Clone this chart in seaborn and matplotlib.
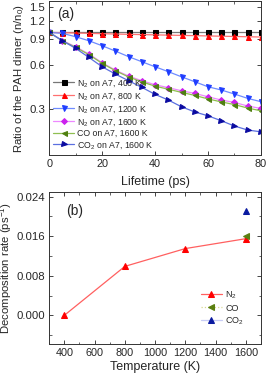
import matplotlib
matplotlib.use("Agg")
import matplotlib.pyplot as plt
import seaborn as sns
import pandas as pd
from matplotlib.ticker import FixedLocator, FormatStrFormatter, NullLocator, MultipleLocator

# ---------------- data ----------------
lifetime = [0, 5, 10, 15, 20, 25, 30, 35, 40, 45, 50, 55, 60, 65, 70, 75, 80]
n2_400 = [1.0, 1.0, 1.0, 1.0, 1.0, 1.0, 1.0, 1.0, 1.0, 1.0, 1.0, 1.0, 1.0, 1.0, 1.0, 1.0, 1.0]
n2_800 = [1.0, 0.995, 0.99, 0.985, 0.98, 0.975, 0.97, 0.966, 0.962, 0.958, 0.954, 0.95, 0.946, 0.942, 0.938, 0.934, 0.93]
n2_1200 = [1.0, 0.985, 0.934, 0.877, 0.811, 0.746, 0.683, 0.631, 0.583, 0.54, 0.498, 0.461, 0.426, 0.405, 0.38, 0.355, 0.337]
n2_1600 = [1.0, 0.88, 0.798, 0.712, 0.621, 0.553, 0.504, 0.468, 0.44, 0.42, 0.40, 0.384, 0.364, 0.346, 0.333, 0.315, 0.303]
co_1600 = [1.0, 0.875, 0.79, 0.705, 0.615, 0.548, 0.497, 0.46, 0.43, 0.41, 0.39, 0.372, 0.352, 0.336, 0.322, 0.305, 0.292]
co2_1600 = [1.0, 0.877, 0.778, 0.675, 0.583, 0.52, 0.468, 0.422, 0.378, 0.346, 0.311, 0.287, 0.27, 0.25, 0.23, 0.216, 0.21]

series_labels = ["N$_2$ on A7, 400 K", "N$_2$ on A7, 800 K", "N$_2$ on A7, 1200 K",
                 "N$_2$ on A7, 1600 K", "CO on A7, 1600 K", "CO$_2$ on A7, 1600 K"]

temperature = [400, 800, 1200, 1600]
rate_n2 = [0.0, 0.0099, 0.0135, 0.0155]
temp_co = [1600]
rate_co = [0.0160]
temp_co2 = [1600]
rate_co2 = [0.0211]

# ---------------- style ----------------
sns.set_style("ticks")
plt.rcParams["font.family"] = ["Liberation Sans", "DejaVu Sans"]
plt.rcParams["mathtext.fontset"] = "custom"
plt.rcParams["mathtext.rm"] = "Liberation Sans"

fig = plt.figure(figsize=(2.69, 3.74), dpi=100)
ax1 = fig.add_axes([0.183, 0.5856, 0.787, 0.411])
ax2 = fig.add_axes([0.183, 0.0802, 0.787, 0.4072])

styles = [
    ("#777777", "s", "black"),
    ("#ff7070", "^", "#ff0000"),
    ("#6f8cff", "v", "#1f3dff"),
    ("#ee88ff", "D", "#cc22ee"),
    ("#8fbf50", "<", "#4f7f10"),
    ("#5a6fe0", ">", "#0a0aa0"),
]
all_series = [n2_400, n2_800, n2_1200, n2_1600, co_1600, co2_1600]

for vals, lab, (lc, mk, mc) in zip(all_series, series_labels, styles):
    df = pd.DataFrame({"t": lifetime, "v": vals})
    ms = 3.6 if mk != "D" else 3.0
    sns.lineplot(data=df, x="t", y="v", ax=ax1, color=lc, marker=mk, markersize=ms,
                 markerfacecolor=mc, markeredgecolor=mc, linewidth=0.9, label=lab)

ax1.set_yscale("log")
ax1.set_ylim(0.146, 1.63)
ax1.set_xlim(0, 80)
ax1.yaxis.set_major_locator(FixedLocator([0.3, 0.6, 0.9, 1.2, 1.5]))
ax1.yaxis.set_major_formatter(FormatStrFormatter("%.1f"))
ax1.yaxis.set_minor_locator(NullLocator())
ax1.xaxis.set_major_locator(MultipleLocator(20))
ax1.xaxis.set_minor_locator(MultipleLocator(10))
ax1.set_xlabel("Lifetime (ps)", fontsize=9, labelpad=5)
ax1.set_ylabel("Ratio of the PAH dimer (n/n$_0$)", fontsize=8.2, labelpad=2)
ax1.text(0.035, 0.92, "(a)", transform=ax1.transAxes, fontsize=10, va="center", ha="left")
ax1.legend(loc="lower left", frameon=False, fontsize=6.3, handlelength=2.4,
           labelspacing=0.12, borderaxespad=0.15, borderpad=0.3, handletextpad=0.3)

# panel b
df_n2 = pd.DataFrame({"T": temperature, "r": rate_n2})
sns.lineplot(data=df_n2, x="T", y="r", ax=ax2, color="#ff6060", marker="^", markersize=4.3,
             markerfacecolor="#ff0000", markeredgecolor="#ff0000", linewidth=0.9, label="N$_2$")
df_co = pd.DataFrame({"T": temp_co, "r": rate_co})
sns.lineplot(data=df_co, x="T", y="r", ax=ax2, color="#d8d890", marker="<", markersize=4.3,
             markerfacecolor="#5a7f10", markeredgecolor="#5a7f10", linewidth=0.9,
             linestyle=":", label="CO")
df_co2 = pd.DataFrame({"T": temp_co2, "r": rate_co2})
sns.lineplot(data=df_co2, x="T", y="r", ax=ax2, color="#c8ccf5", marker="^", markersize=4.3,
             markerfacecolor="#0a1aa0", markeredgecolor="#0a1aa0", linewidth=0.9, label="CO$_2$")

ax2.set_xlim(300, 1700)
ax2.set_ylim(-0.0058, 0.025)
ax2.xaxis.set_major_locator(MultipleLocator(200))
ax2.xaxis.set_minor_locator(MultipleLocator(100))
ax2.yaxis.set_major_locator(FixedLocator([0.0, 0.008, 0.016, 0.024]))
ax2.yaxis.set_major_formatter(FormatStrFormatter("%.3f"))
ax2.yaxis.set_minor_locator(MultipleLocator(0.004))
ax2.set_xlabel("Temperature (K)", fontsize=9, labelpad=2)
ax2.set_ylabel("Decomposition rate (ps$^{-1}$)", fontsize=8.2, labelpad=1.5)
ax2.text(0.08, 0.875, "(b)", transform=ax2.transAxes, fontsize=10, va="center", ha="left")
ax2.legend(loc="lower right", frameon=False, fontsize=6.5, handlelength=2.4,
           labelspacing=0.3, borderaxespad=1.5, handletextpad=0.3)

for ax in (ax1, ax2):
    ax.tick_params(which="both", direction="in", top=True, right=True, pad=3)
    ax.tick_params(axis="x", labelsize=7.8)
    ax.tick_params(axis="y", labelsize=8.2)
    ax.tick_params(which="major", length=3, width=0.6)
    ax.tick_params(which="minor", length=1.8, width=0.5)
    for sp in ax.spines.values():
        sp.set_linewidth(0.7)
        sp.set_color("#333333")

fig.savefig("out.png", dpi=100)
